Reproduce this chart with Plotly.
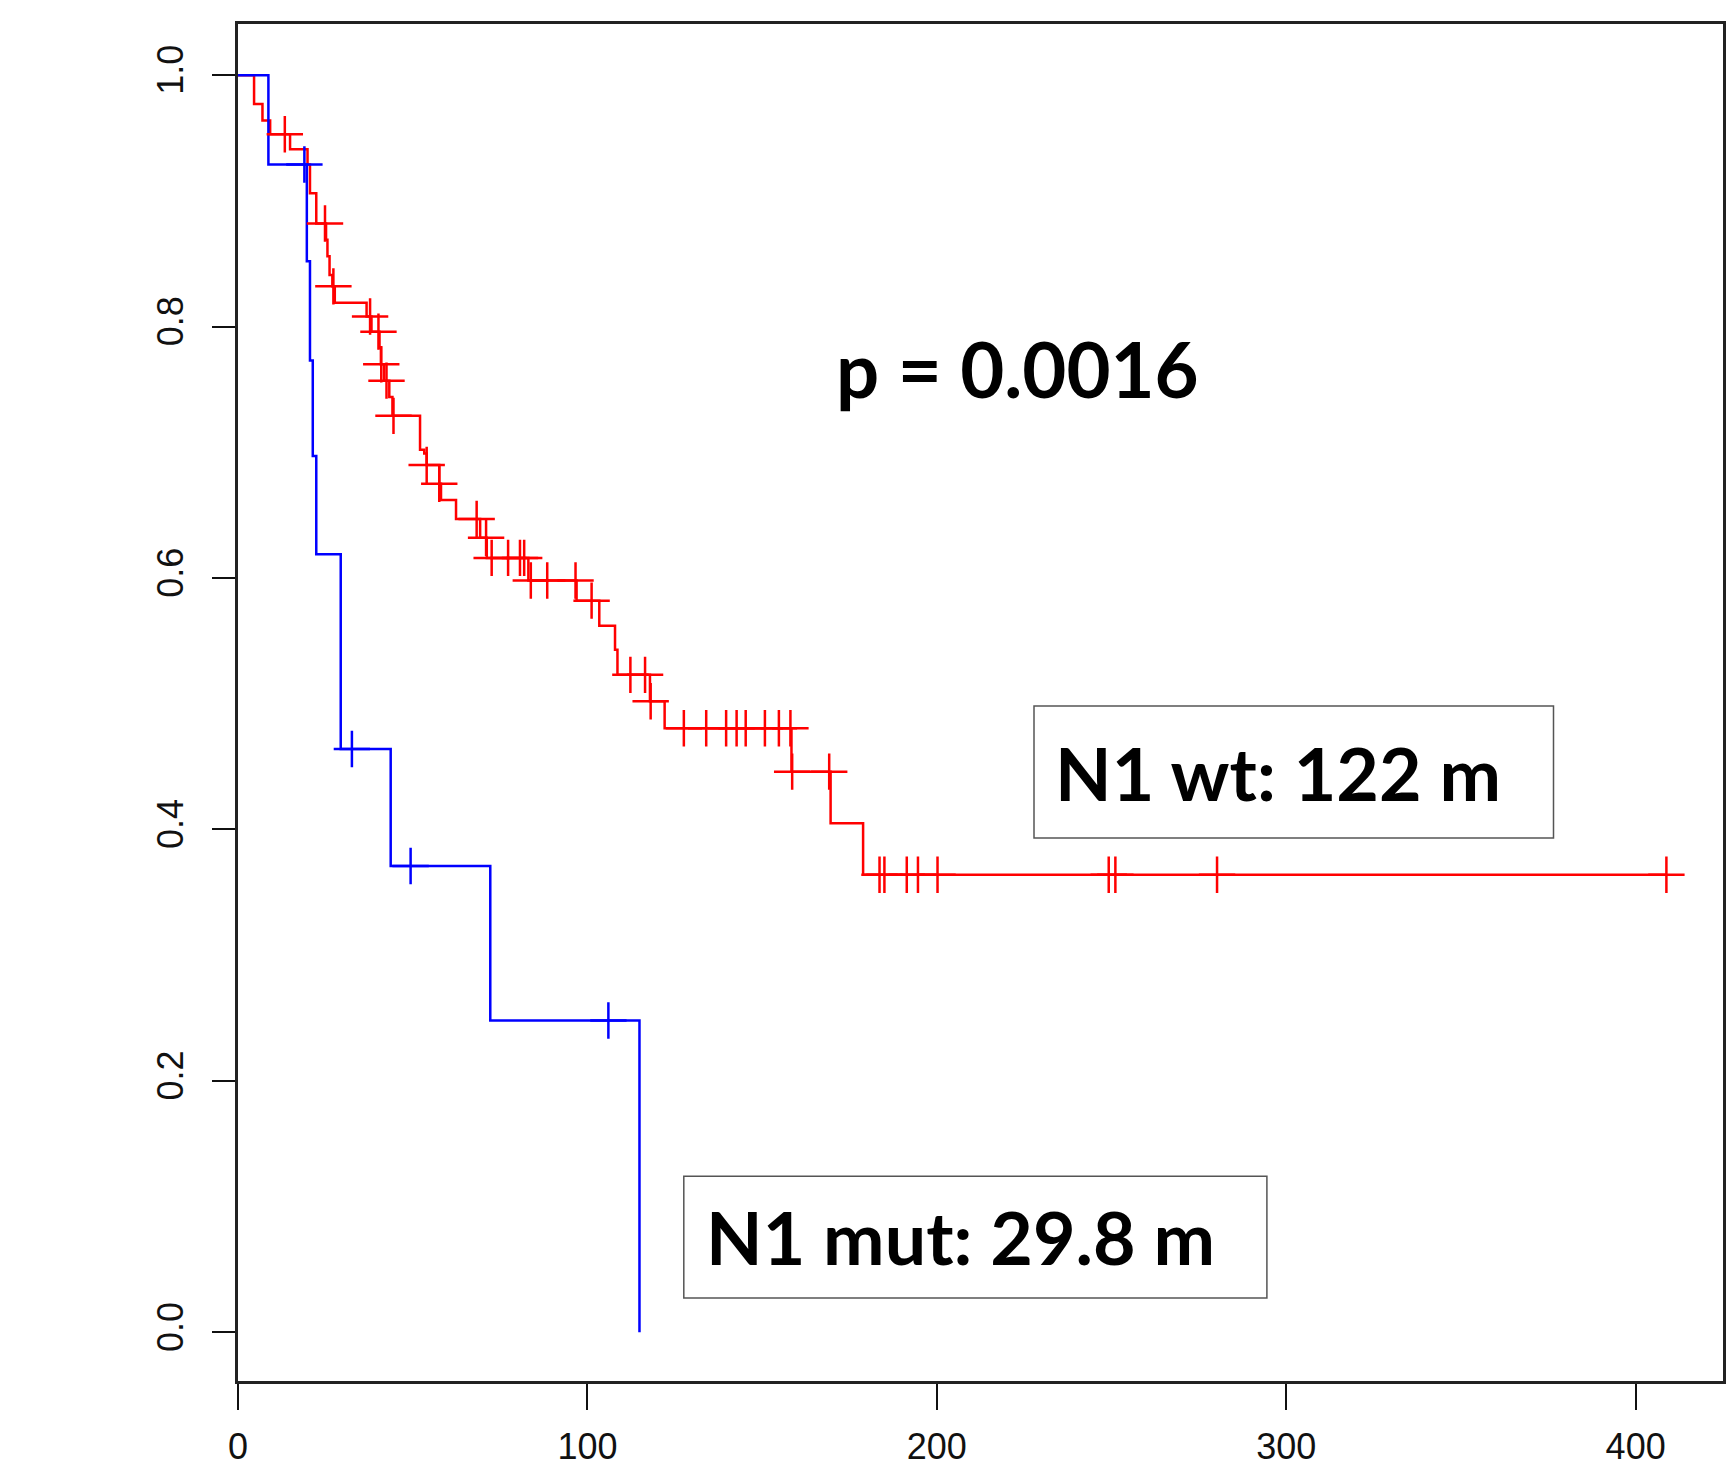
import plotly.graph_objects as go

# ---------------- data ----------------
# N1 wild-type (red) Kaplan-Meier steps: time (months) and survival after the step
wt_time = [0, 4.6, 7.0, 9.2, 14.9, 19.9, 20.6, 22.4, 25.2, 25.6, 26.2, 27.0, 27.7,
           36.8, 38.2, 40.5, 40.9, 41.8, 43.3, 44.2, 52.1, 53.3, 54.0, 57.6, 58.1,
           62.4, 69.3, 71.2, 83.1, 96.9, 103.4, 107.9, 108.6, 117.9, 122.1, 158.4,
           169.6, 178.9, 408.8]
wt_surv = [1.0, 0.977, 0.964, 0.953, 0.941, 0.929, 0.906, 0.882, 0.869, 0.856, 0.841,
           0.832, 0.819, 0.808, 0.796, 0.783, 0.770, 0.757, 0.744, 0.729, 0.702, 0.699,
           0.690, 0.675, 0.662, 0.647, 0.632, 0.616, 0.598, 0.582, 0.562, 0.543, 0.523,
           0.502, 0.4805, 0.446, 0.405, 0.364, 0.364]
# censored observations (red)
wt_cens_time = [13.4, 24.9, 27.3, 37.8, 40.2, 41.0, 42.5, 44.5, 54.0, 57.6, 68.3, 71.0,
                72.6, 77.3, 80.7, 81.9, 83.8, 88.5, 96.6, 101.2, 112.3, 116.5, 118.1,
                127.6, 134.0, 139.7, 142.7, 145.3, 150.8, 154.8, 158.1, 158.6, 169.2,
                183.6, 185.0, 191.4, 194.6, 200.2, 249.2, 251.1, 280.2, 408.8]
wt_cens_surv = [0.953, 0.882, 0.832, 0.808, 0.796, 0.770, 0.757, 0.729, 0.690, 0.675,
                0.647, 0.632, 0.616, 0.616, 0.616, 0.616, 0.598, 0.598, 0.598, 0.582,
                0.523, 0.523, 0.502, 0.4805, 0.4805, 0.4805, 0.4805, 0.4805, 0.4805,
                0.4805, 0.4805, 0.446, 0.446, 0.364, 0.364, 0.364, 0.364, 0.364, 0.364,
                0.364, 0.364, 0.364]

# N1 mutant (blue)
mut_time = [0, 8.7, 19.7, 20.6, 21.4, 22.4, 29.4, 43.7, 72.2, 114.9]
mut_surv = [1.0, 0.929, 0.852, 0.773, 0.697, 0.619, 0.464, 0.371, 0.248, 0.0]
mut_cens_time = [19.0, 32.6, 49.4, 106.0]
mut_cens_surv = [0.929, 0.464, 0.371, 0.248]

x_ticks = [0, 100, 200, 300, 400]
x_tick_labels = ["0", "100", "200", "300", "400"]
y_ticks = [0.0, 0.2, 0.4, 0.6, 0.8, 1.0]
y_tick_labels = ["0.0", "0.2", "0.4", "0.6", "0.8", "1.0"]

p_text = "p = 0.0016"
wt_label = "N1 wt: 122 m"
mut_label = "N1 mut: 29.8 m"

# ---------------- figure ----------------
W, H = 1735, 1464
OFF = 8  # the page body adds an 8 px margin around the figure
L, R, T, B = 238 - OFF, 1723 - OFF, 24 - OFF, 1381 - OFF   # plot area in figure pixels


def px(xp):
    # xp is a page pixel position
    return (xp - OFF - L) / (R - L)


def py(yp):
    return (B - (yp - OFF)) / (B - T)


RED = "#FF0000"
BLUE = "#0000FF"

fig = go.Figure()
fig.add_trace(go.Scatter(x=wt_time, y=wt_surv, mode="lines", line=dict(color=RED, width=2.5, shape="hv"),
                         showlegend=False))
fig.add_trace(go.Scatter(x=mut_time, y=mut_surv, mode="lines", line=dict(color=BLUE, width=2.5, shape="hv"),
                         showlegend=False))
fig.add_trace(go.Scatter(x=wt_cens_time, y=wt_cens_surv, mode="markers",
                         marker=dict(symbol="cross-thin", size=26, line=dict(color=RED, width=2.5)),
                         showlegend=False))
fig.add_trace(go.Scatter(x=mut_cens_time, y=mut_cens_surv, mode="markers",
                         marker=dict(symbol="cross-thin", size=26, line=dict(color=BLUE, width=2.5)),
                         showlegend=False))

tick_font = dict(family="Liberation Sans, Arial, sans-serif", size=36, color="#111111")

fig.update_layout(
    width=W, height=H,
    margin=dict(l=L, r=W - R, t=T, b=H - B, pad=0, autoexpand=False),
    paper_bgcolor="white", plot_bgcolor="white",
    xaxis=dict(range=[0, 425], tickvals=x_ticks, ticktext=x_tick_labels, ticks="outside",
               ticklen=26, tickwidth=2, tickcolor="#111111", showgrid=False, zeroline=False,
               showline=True, linecolor="#222222", linewidth=3, mirror=True, automargin=False,
               tickfont=tick_font, ticklabelstandoff=6),
    yaxis=dict(range=[-0.0387, 1.0407], tickvals=y_ticks, ticktext=y_tick_labels, ticks="outside",
               ticklen=23, tickwidth=2, tickcolor="#111111", showgrid=False, zeroline=False,
               showline=True, linecolor="#222222", linewidth=3, mirror=True, automargin=False,
               tickfont=tick_font, tickangle=-90, ticklabelstandoff=15),
)

label_font = dict(family="Lato, Open Sans, sans-serif", size=76, color="black", weight="bold")
box_font = dict(family="Lato, Open Sans, sans-serif", size=73.5, color="black", weight="bold")

fig.add_annotation(x=px(1017.5), y=py(368), xref="paper", yref="paper", text=p_text,
                   showarrow=False, xanchor="center", yanchor="middle", font=label_font)

# label boxes
fig.add_shape(type="rect", xref="paper", yref="paper", x0=px(1034), x1=px(1553.5), y0=py(838), y1=py(706),
              line=dict(color="#555555", width=1.5), fillcolor="white", layer="above")
fig.add_shape(type="rect", xref="paper", yref="paper", x0=px(683.8), x1=px(1266.9), y0=py(1298), y1=py(1176.2),
              line=dict(color="#555555", width=1.5), fillcolor="white", layer="above")

fig.add_annotation(x=px(1053), y=py(772), xref="paper", yref="paper", text=wt_label,
                   showarrow=False, xanchor="left", yanchor="middle", font=box_font)
fig.add_annotation(x=px(704), y=py(1236), xref="paper", yref="paper", text=mut_label,
                   showarrow=False, xanchor="left", yanchor="middle", font=box_font)

fig.write_html("out.html")
